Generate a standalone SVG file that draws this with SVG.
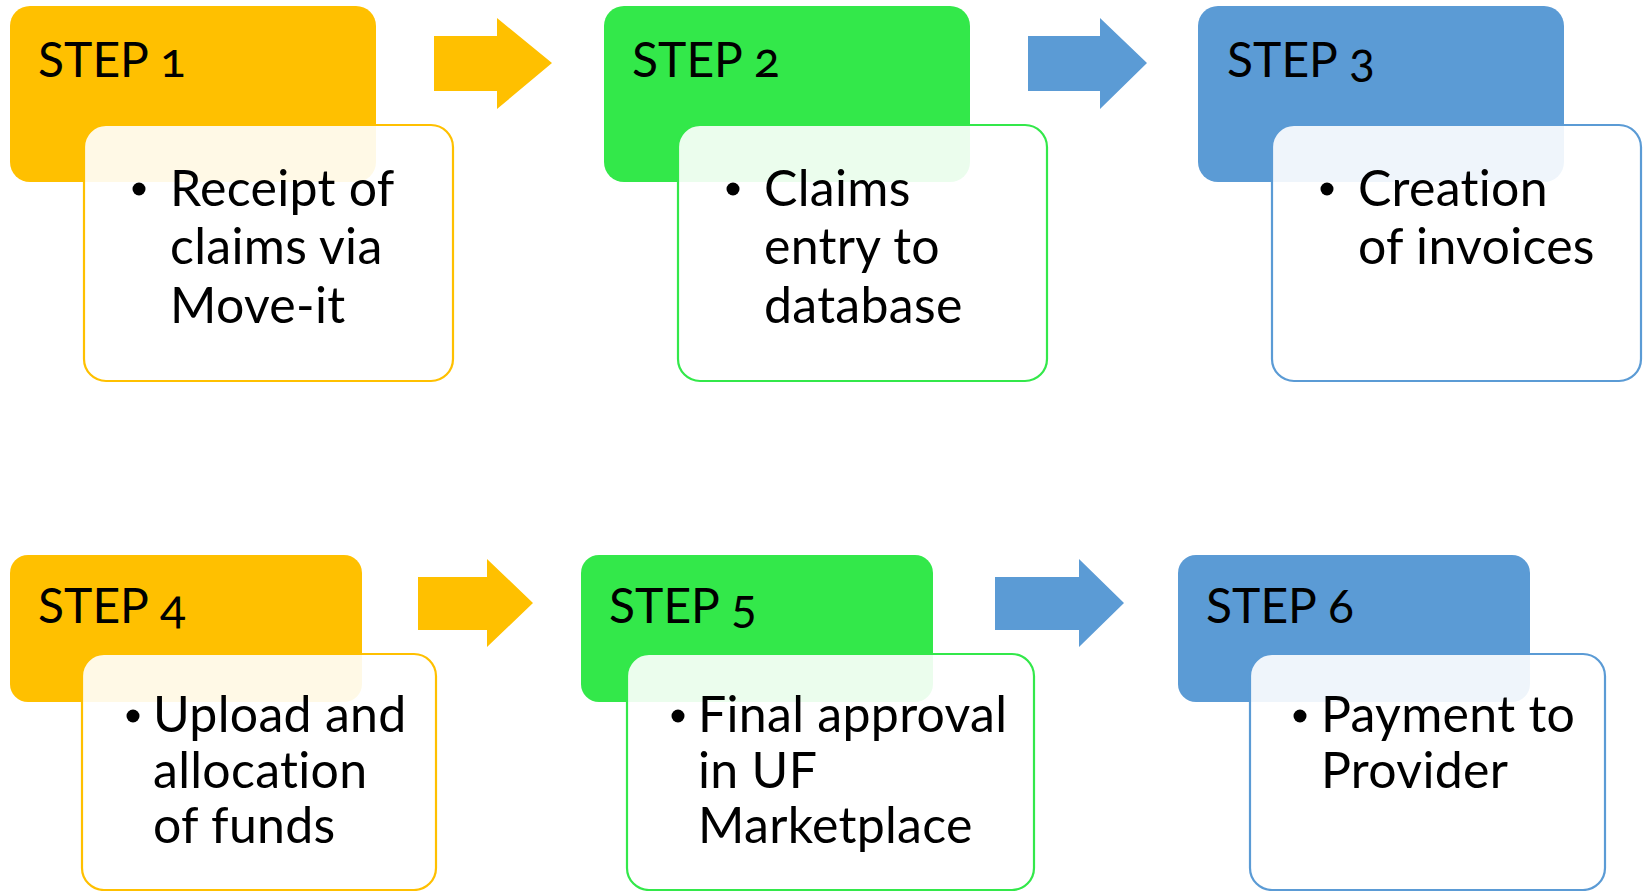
<svg xmlns="http://www.w3.org/2000/svg" width="1643" height="891" viewBox="0 0 1643 891">
<style>
.hd{stroke:none}
.y{fill:#FFC000}.g{fill:#33E84A}.b{fill:#5B9BD5}
.body{fill:#FFFFFF;fill-opacity:0.9;stroke-width:2.2}
.ys{stroke:#FFC000}.gs{stroke:#33E84A}.bs{stroke:#5B9BD5}
text{font-family:Lato,"Open Sans","Liberation Sans",sans-serif;fill:#000;font-variant-numeric:oldstyle-nums}
.t{font-size:48px}
.l{font-size:50px;letter-spacing:0.3px}
</style>
<rect width="1643" height="891" fill="#FFFFFF"/>
<g id="connectors">
<polygon class="y" points="434,36 497,36 497,18 552,63 497,109 497,91 434,91"/>
<polygon class="b" points="1028,36 1100,36 1100,18 1147,63 1100,109 1100,91 1028,91"/>
<polygon class="y" points="418,577 487,577 487,559 533,603 487,647 487,630 418,630"/>
<polygon class="b" points="995,577 1079,577 1079,559 1124,603 1079,647 1079,630 995,630"/>
</g>
<g id="step1">
<rect class="hd y" x="10" y="6" width="366" height="176" rx="20"/>
<rect class="body ys" x="84" y="125" width="369" height="256" rx="22"/>
<text class="t" x="38" y="77">STEP 1</text>
<circle cx="139" cy="189" r="6.5"/>
<text class="l" x="170" y="206">Receipt of</text>
<text class="l" x="170" y="264">claims via</text>
<text class="l" x="170" y="323">Move-it</text>
</g>
<g id="step2">
<rect class="hd g" x="604" y="6" width="366" height="176" rx="20"/>
<rect class="body gs" x="678" y="125" width="369" height="256" rx="22"/>
<text class="t" x="632" y="77">STEP 2</text>
<circle cx="733" cy="189" r="6.5"/>
<text class="l" x="764" y="206">Claims</text>
<text class="l" x="764" y="264">entry to</text>
<text class="l" x="764" y="323">database</text>
</g>
<g id="step3">
<rect class="hd b" x="1198" y="6" width="366" height="176" rx="20"/>
<rect class="body bs" x="1272" y="125" width="369" height="256" rx="22"/>
<text class="t" x="1227" y="77">STEP 3</text>
<circle cx="1327" cy="189" r="6.5"/>
<text class="l" x="1358" y="206">Creation</text>
<text class="l" x="1358" y="264">of invoices</text>
</g>
<g id="step4">
<rect class="hd y" x="10" y="555" width="352" height="147" rx="18"/>
<rect class="body ys" x="82" y="654" width="354" height="236" rx="22"/>
<text class="t" x="38" y="623">STEP 4</text>
<circle cx="133" cy="716" r="6.5"/>
<text class="l" x="153" y="732">Upload and</text>
<text class="l" x="153" y="788">allocation</text>
<text class="l" x="153" y="843">of funds</text>
</g>
<g id="step5">
<rect class="hd g" x="581" y="555" width="352" height="147" rx="18"/>
<rect class="body gs" x="627" y="654" width="407" height="236" rx="22"/>
<text class="t" x="609" y="623">STEP 5</text>
<circle cx="678" cy="716" r="6.5"/>
<text class="l" x="698" y="732">Final approval</text>
<text class="l" x="698" y="788">in UF</text>
<text class="l" x="698" y="843">Marketplace</text>
</g>
<g id="step6">
<rect class="hd b" x="1178" y="555" width="352" height="147" rx="18"/>
<rect class="body bs" x="1250" y="654" width="355" height="236" rx="22"/>
<text class="t" x="1206" y="623">STEP 6</text>
<circle cx="1300" cy="716" r="6.5"/>
<text class="l" x="1321" y="732">Payment to</text>
<text class="l" x="1321" y="788">Provider</text>
</g>
</svg>
